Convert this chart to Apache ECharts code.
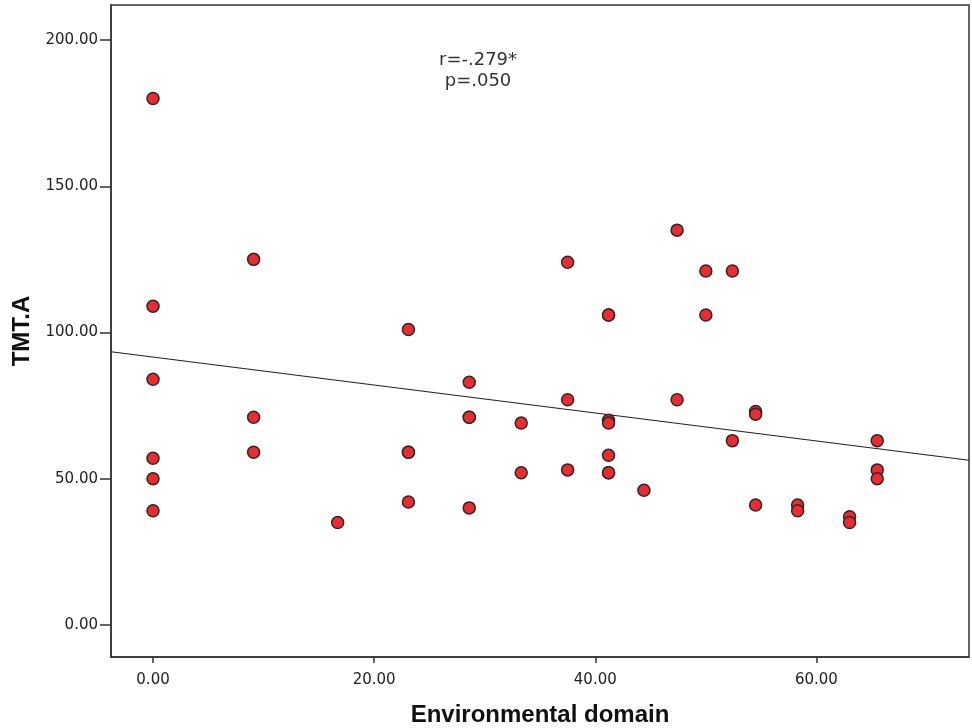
<!DOCTYPE html>
<html>
<head>
<meta charset="utf-8">
<script src="https://cdn.jsdelivr.net/npm/echarts@6/dist/echarts.min.js"></script>
<style>
html,body{margin:0;padding:0;background:#fff;}
#main{width:972px;height:728px;}
</style>
</head>
<body>
<div id="main"></div>
<script>
// Environmental domain (x) and TMT.A (y), read point by point
const envX = [
  0, 0, 0, 0, 0, 0,
  9.1, 9.1, 9.1,
  16.7,
  23.1, 23.1, 23.1, 23.1,
  28.6, 28.6, 28.6, 28.6,
  33.3, 33.3,
  37.5, 37.5, 37.5,
  41.2, 41.2, 41.2, 41.2, 41.2, 41.2, 41.2,
  44.4,
  47.4, 47.4,
  50, 50,
  52.4, 52.4,
  54.5, 54.5, 54.5,
  58.3, 58.3,
  63.0, 63.0,
  65.5, 65.5, 65.5
];
const tmtY = [
  180, 109, 84, 57, 50, 39,
  125, 71, 59,
  35,
  101, 59, 59, 42,
  83, 71, 71, 40,
  69, 52,
  124, 77, 53,
  106, 106, 70, 69, 58, 52, 52,
  46,
  135, 77,
  121, 106,
  121, 63,
  73, 72, 41,
  41, 39,
  37, 35,
  63, 53, 50
];
// fit line ends
const fitX = [-3.8, 73.8];
const fitY = [93.4, 56.3];
const xTicks = [0, 20, 40, 60];
const yTicks = [0, 50, 100, 150, 200];
const statLines = ['r=-.279*', 'p=.050'];

const points = envX.map((x, i) => [x, tmtY[i]]);
const fitLine = fitX.map((x, i) => [x, fitY[i]]);

const chart = echarts.init(document.getElementById('main'));
const fam = 'Liberation Sans, Arial, sans-serif';
const labelFont = {color: '#222', fontSize: 15, fontFamily: 'DejaVu Sans, sans-serif'};
const titleFont = {fontSize: 24, fontWeight: 'bold', color: '#111', fontFamily: fam};

chart.setOption({
  animation: false,
  backgroundColor: '#fff',
  grid: {
    left: 111,
    right: 3,
    top: 5,
    bottom: 71,
    outerBoundsMode: 'none',
    containLabel: false,
    show: true,
    borderColor: '#333',
    borderWidth: 1.5
  },
  xAxis: {
    type: 'value',
    min: -3.8,
    max: 73.8,
    name: 'Environmental domain',
    nameLocation: 'middle',
    nameGap: 46,
    nameTextStyle: titleFont,
    axisLine: {onZero: false, lineStyle: {color: '#333', width: 1.5}},
    axisTick: {show: true, length: 6, customValues: xTicks, lineStyle: {color: '#333', width: 1.5}},
    axisLabel: Object.assign({margin: 16, customValues: xTicks, formatter: v => v.toFixed(2)}, labelFont),
    splitLine: {show: false}
  },
  yAxis: {
    type: 'value',
    min: -11,
    max: 212,
    name: 'TMT.A',
    nameLocation: 'middle',
    nameGap: 73,
    nameTextStyle: titleFont,
    axisLine: {onZero: false, lineStyle: {color: '#333', width: 1.5}},
    axisTick: {show: true, length: 11, customValues: yTicks, lineStyle: {color: '#333', width: 1.5}},
    axisLabel: Object.assign({margin: 13, customValues: yTicks, formatter: v => v.toFixed(2)}, labelFont),
    splitLine: {show: false}
  },
  graphic: [{
    type: 'text',
    left: 439,
    top: 50,
    style: {
      text: statLines.join('\n'),
      fill: '#333',
      fontSize: 18,
      lineHeight: 21,
      fontFamily: 'DejaVu Sans, sans-serif',
      textAlign: 'center'
    }
  }],
  series: [
    {
      type: 'line',
      data: fitLine,
      symbol: 'none',
      lineStyle: {color: '#222', width: 1.2},
      silent: true,
      z: 1
    },
    {
      type: 'scatter',
      data: points,
      symbol: 'circle',
      symbolSize: 12,
      itemStyle: {color: '#ee2a2e', borderColor: '#2a2a2a', borderWidth: 1.5, opacity: 1},
      z: 2
    }
  ]
});
</script>
</body>
</html>
